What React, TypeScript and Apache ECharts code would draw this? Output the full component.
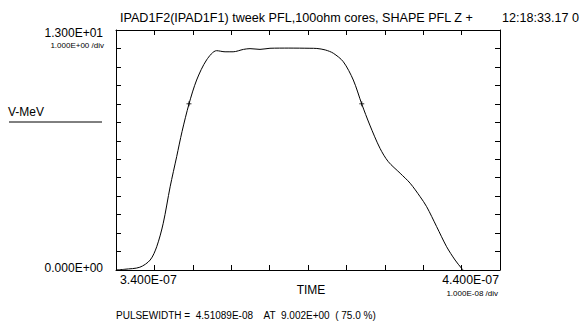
import React, { useEffect, useRef } from "react";
import * as echarts from "echarts";

// time in ns, voltage in MeV
const times = [340, 342.3, 346.2, 348.9, 350.6, 352.3, 354.1, 355.8, 357.2, 359.0, 361.0, 363.6, 366.2, 368.4, 370.5, 373.2, 374.9, 377.5, 380.1, 385.0, 390.5, 392.3, 394.5, 396.6, 399.2, 401.8, 404.0, 406.1, 408.75, 410.9, 414.0, 416.6, 419.2, 420.9, 423.5, 426.1, 428.3, 430.0, 430.4];
const volts = [0, 0.04, 0.15, 0.54, 1.26, 2.53, 4.51, 6.14, 7.5, 8.99, 10.29, 11.38, 11.88, 11.82, 11.82, 11.95, 11.99, 11.95, 12.01, 12.02, 12.01, 12.0, 11.92, 11.74, 11.28, 10.29, 8.99, 7.85, 6.59, 5.87, 5.24, 4.70, 3.97, 3.43, 2.35, 1.26, 0.54, 0.09, 0];
const markerTimes = [359.0, 404.0];
const markerVolts = [9.002, 9.002];

const titleText = "IPAD1F2(IPAD1F1) tweek PFL,100ohm cores, SHAPE PFL Z +";
const timeStamp = "12:18:33.17 0";
const yTopLabel = "1.300E+01";
const yBottomLabel = "0.000E+00";
const yDivLabel = "1.000E+00 /div";
const xLeftLabel = "3.400E-07";
const xRightLabel = "4.400E-07";
const xDivLabel = "1.000E-08 /div";
const yName = "V-MeV";
const xName = "TIME";
const footer = "PULSEWIDTH =  4.51089E-08    AT  9.002E+00  ( 75.0 %)";

const FONT = "'Liberation Sans', Arial, sans-serif";

export default function App() {
  const ref = useRef<HTMLDivElement>(null);
  useEffect(() => {
    const chart = echarts.init(ref.current!, null, { renderer: "svg" });
    const axisCommon = {
      type: "value" as const,
      axisLine: { show: true, onZero: false, lineStyle: { color: "#000", width: 1 } },
      axisTick: { show: true, inside: true, length: 5, lineStyle: { color: "#000", width: 1 } },
      axisLabel: { show: false },
      splitLine: { show: false },
    };
    const txt = (text: string, x: number, y: number, size: number, align: string) => ({
      type: "text",
      x,
      y,
      style: {
        text,
        fill: "#000",
        font: `${size}px ${FONT}`,
        textAlign: align,
        textVerticalAlign: "middle",
      },
    });
    chart.setOption({
      animation: false,
      backgroundColor: "#fff",
      grid: { left: 116, top: 30, width: 384, height: 240, containLabel: false },
      xAxis: [
        { ...axisCommon, min: 340, max: 440, interval: 10, position: "bottom" },
        { ...axisCommon, min: 340, max: 440, interval: 10, position: "top" },
      ],
      yAxis: [
        { ...axisCommon, min: 0, max: 13, interval: 1, position: "left" },
        { ...axisCommon, min: 0, max: 13, interval: 1, position: "right" },
      ],
      series: [
        {
          type: "line",
          data: times.map((t, i) => [t, volts[i]]),
          smooth: 0.3,
          symbol: "none",
          lineStyle: { color: "#000", width: 1 },
          silent: true,
        },
        {
          type: "scatter",
          data: markerTimes.map((t, i) => [t, markerVolts[i]]),
          symbol: "path://M0,-1L0,1M-1,0L1,0",
          symbolSize: 5,
          itemStyle: { color: "none", borderColor: "#000", borderWidth: 1 },
          silent: true,
        },
      ],
      graphic: [
        txt(titleText, 120, 18, 12.6, "left"),
        txt(timeStamp, 502, 18, 12.6, "left"),
        txt(yTopLabel, 103, 33, 12, "right"),
        txt(yDivLabel, 104, 45, 8, "right"),
        txt(yName, 8, 112, 12, "left"),
        { type: "line", shape: { x1: 9, y1: 122, x2: 102, y2: 122 }, style: { stroke: "#000", lineWidth: 1 } },
        txt(yBottomLabel, 103, 267.5, 12, "right"),
        txt(xLeftLabel, 120, 280, 12.3, "left"),
        txt(xRightLabel, 499, 280, 12.3, "right"),
        txt(xDivLabel, 498, 293, 8, "right"),
        txt(xName, 311, 290, 12, "center"),
        txt(footer, 116, 315, 10, "left"),
      ],
    });
    return () => chart.dispose();
  }, []);
  return (
    <div
      ref={ref}
      style={{ position: "fixed", left: 0, top: 0, width: 581, height: 322, background: "#fff" }}
    />
  );
}
